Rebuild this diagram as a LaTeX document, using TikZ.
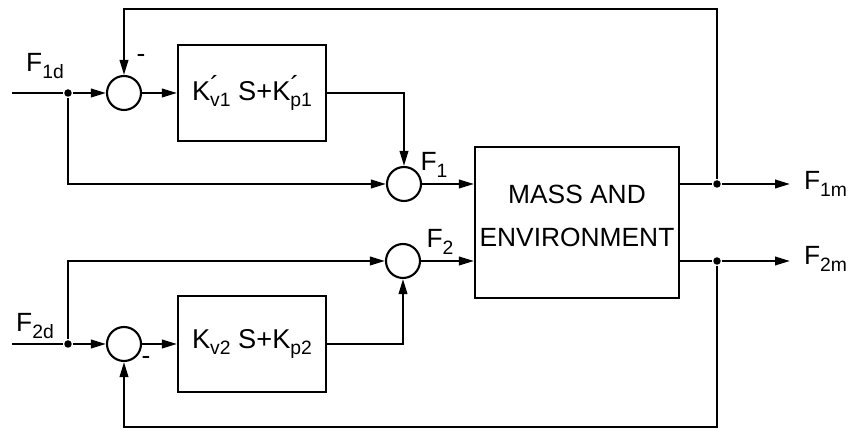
\documentclass[tikz,border=0pt]{standalone}
\usepackage{fontspec}
\setmainfont{Liberation Sans}
\usetikzlibrary{arrows.meta}
\newcommand\sbs[1]{\raisebox{-0.45ex}{\fontsize{11}{12}\selectfont #1}}
\newcommand\prm{\rlap{\raisebox{0.35ex}{´}}}
\begin{document}
\begin{tikzpicture}[x=0.02cm,y=-0.02cm, line width=1.2pt,
 sumnode/.style={draw,circle,minimum size=0.68cm,inner sep=0},
 blockbox/.style={draw,minimum width=2.96cm,minimum height=1.92cm,inner sep=0,font=\fontsize{15.5}{18}\selectfont},
 bigbox/.style={draw,minimum width=4.08cm,minimum height=3.02cm,inner sep=0},
 dotnode/.style={circle,fill,inner sep=0,minimum size=0.15cm},
 arr/.style={-{Triangle[length=0.3cm,width=0.17cm]}},
 lbl/.style={font=\fontsize{15}{16}\selectfont, inner sep=0}]
\useasboundingbox (0,0) rectangle (860,431);
% nodes
\coordinate (in1) at (12,93);
\coordinate (in2) at (12,344);
\node[dotnode] (d1) at (68,93) {};
\node[dotnode] (d2) at (68,344) {};
\node[sumnode] (s1) at (124,93) {};
\node[sumnode] (s2) at (404,184) {};
\node[sumnode] (s3) at (403,261) {};
\node[sumnode] (s4) at (124,344) {};
\node[blockbox] (b1) at (252,93) {K\prm\sbs{v1} S+K\prm\sbs{p1}};
\node[blockbox] (b2) at (252,344) {K\sbs{v2} S+K\sbs{p2}};
\node[bigbox] (m) at (577,222.5) {};
\node[font=\fontsize{15}{24}\selectfont, align=center, inner sep=0] (mt) at (577,216) {MASS AND\\ENVIRONMENT};
\node[dotnode] (o1) at (717,184) {};
\node[dotnode] (o2) at (717,261) {};
\coordinate (e1) at (790,184);
\coordinate (e2) at (790,261);
\coordinate (tr) at (717,9);
\coordinate (br) at (717,427);
% labels
\node[lbl] (lf1d) at (45,66) {F\sbs{1d}};
\node[lbl] (lf2d) at (35,326) {F\sbs{2d}};
\node[lbl] (lf1) at (434,165) {F\sbs{1}};
\node[lbl] (lf2) at (440,242) {F\sbs{2}};
\node[lbl, anchor=west] (lf1m) at (803,184) {F\sbs{1m}};
\node[lbl, anchor=west] (lf2m) at (803,259) {F\sbs{2m}};
\node[lbl] (mn1) at (141,58) {-};
\node[lbl] (mn2) at (146,360) {-};
% connectors, upper loop
\draw (in1) -- (d1);
\draw[arr] (d1) -- (s1);
\draw[arr] (s1) -- (b1);
\draw[arr] (b1.east) -| (s2.north);
\draw[arr] (d1) |- (s2.west);
\draw[arr] (s2) -- (m.west |- s2);
\draw (m.east |- o1) -- (o1);
\draw[arr] (o1) -- (e1);
\draw[arr] (o1) -- (tr) -| (s1.north);
% lower loop
\draw (in2) -- (d2);
\draw[arr] (d2) -- (s4);
\draw[arr] (s4) -- (b2);
\draw[arr] (b2.east) -| (s3.south);
\draw[arr] (d2) |- (s3.west);
\draw[arr] (s3) -- (m.west |- s3);
\draw (m.east |- o2) -- (o2);
\draw[arr] (o2) -- (e2);
\draw[arr] (o2) -- (br) -| (s4.south);
\end{tikzpicture}
\end{document}
